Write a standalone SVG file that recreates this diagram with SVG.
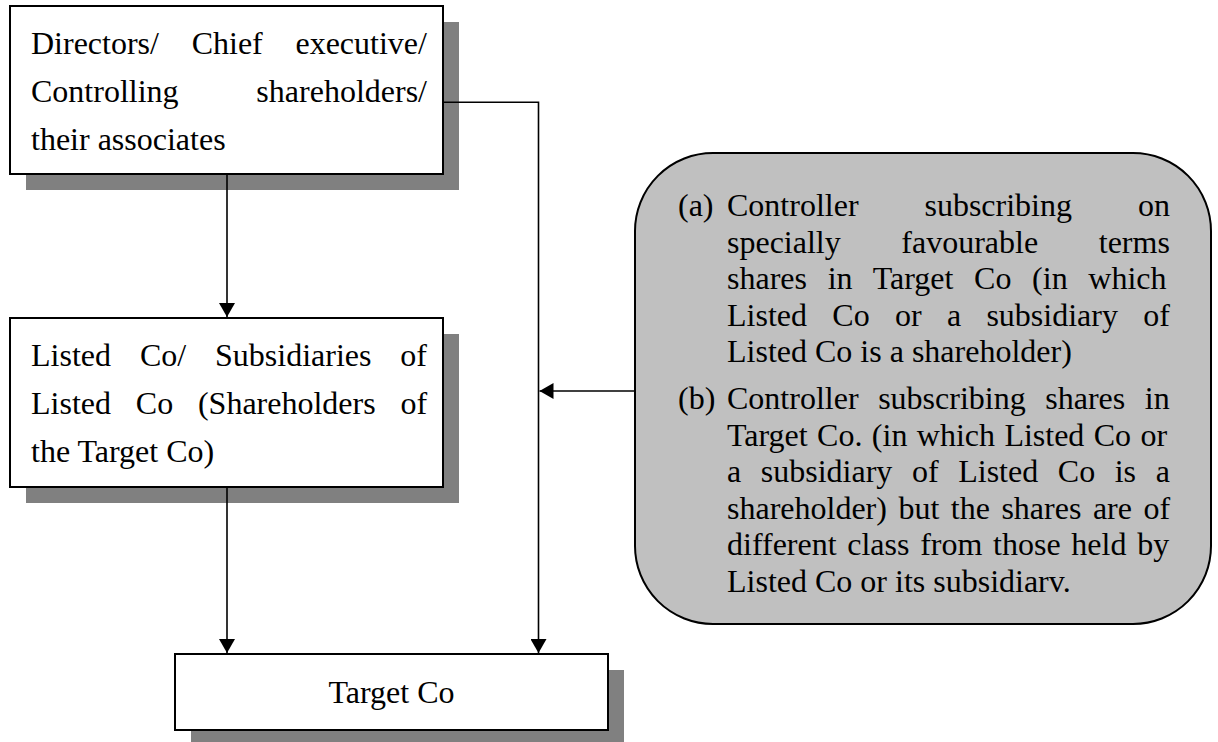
<svg xmlns="http://www.w3.org/2000/svg" width="1218" height="742" viewBox="0 0 1218 742">
  <defs>
    <marker id="arrow" markerUnits="userSpaceOnUse" markerWidth="16" markerHeight="16" refX="14" refY="8" orient="auto">
      <path d="M0,0 L14,8 L0,16 z" fill="#000"/>
    </marker>
    <style>
      .shadow { fill: #808080; }
      .box { fill: #fff; stroke: #000; stroke-width: 2; }
      .callout { fill: #c0c0c0; stroke: #000; stroke-width: 2; }
      .txt { font-family: "Liberation Serif", "Times New Roman", serif; font-size: 32px; fill: #000; }
      .link { fill: none; stroke: #000; stroke-width: 1.6; }
    </style>
  </defs>
  <rect width="1218" height="742" fill="#fff"/>

  <!-- Top box -->
  <g id="controllers">
    <rect class="shadow" x="26" y="22" width="433" height="168"/>
    <rect class="box" x="10" y="6" width="433" height="168"/>
    <text class="txt" x="31" y="54" word-spacing="24.7">Directors/ Chief executive/</text>
    <text class="txt" x="31" y="102" word-spacing="69.8">Controlling shareholders/</text>
    <text class="txt" x="31" y="150">their associates</text>
  </g>

  <!-- Middle box -->
  <g id="listed-co">
    <rect class="shadow" x="26" y="334" width="433" height="169"/>
    <rect class="box" x="10" y="318" width="433" height="169"/>
    <text class="txt" x="31" y="366" word-spacing="20.9">Listed Co/ Subsidiaries of</text>
    <text class="txt" x="31" y="414" word-spacing="16.8">Listed Co (Shareholders of</text>
    <text class="txt" x="31" y="462">the Target Co)</text>
  </g>

  <!-- Bottom box -->
  <g id="target-co">
    <rect class="shadow" x="191" y="670" width="433" height="76"/>
    <rect class="box" x="175" y="654" width="433" height="76"/>
    <text class="txt" x="391.5" y="703" text-anchor="middle">Target Co</text>
  </g>

  <!-- Rounded note box -->
  <g id="note">
    <rect class="callout" x="635" y="153" width="576" height="471" rx="78" ry="78"/>
    <text class="txt" x="678" y="216">(a)</text>
    <text class="txt" x="727" y="216" word-spacing="57.9">Controller subscribing on</text>
    <text class="txt" x="727" y="252.5" word-spacing="52.6">specially favourable terms</text>
    <text class="txt" x="727" y="289" word-spacing="12.7">shares in Target Co (in which</text>
    <text class="txt" x="727" y="325.5" word-spacing="17.3">Listed Co or a subsidiary of</text>
    <text class="txt" x="727" y="362">Listed Co is a shareholder)</text>
    <text class="txt" x="678" y="409">(b)</text>
    <text class="txt" x="727" y="409" word-spacing="11.6">Controller subscribing shares in</text>
    <text class="txt" x="727" y="445.5" word-spacing="1.4">Target Co. (in which Listed Co or</text>
    <text class="txt" x="727" y="482" word-spacing="11.6">a subsidiary of Listed Co is a</text>
    <text class="txt" x="727" y="518.5" word-spacing="3.5">shareholder) but the shares are of</text>
    <text class="txt" x="727" y="555" word-spacing="2.7">different class from those held by</text>
    <text class="txt" x="727" y="591.5">Listed Co or its subsidiarv.</text>
  </g>

  <!-- Connectors -->
  <g id="connectors">
    <line class="link" x1="227" y1="174" x2="227" y2="317" marker-end="url(#arrow)"/>
    <line class="link" x1="227" y1="487" x2="227" y2="653" marker-end="url(#arrow)"/>
    <polyline class="link" points="443,102.3 538.5,102.3 538.5,653" marker-end="url(#arrow)"/>
    <line class="link" x1="635" y1="391" x2="539.5" y2="391" marker-end="url(#arrow)"/>
  </g>
</svg>
